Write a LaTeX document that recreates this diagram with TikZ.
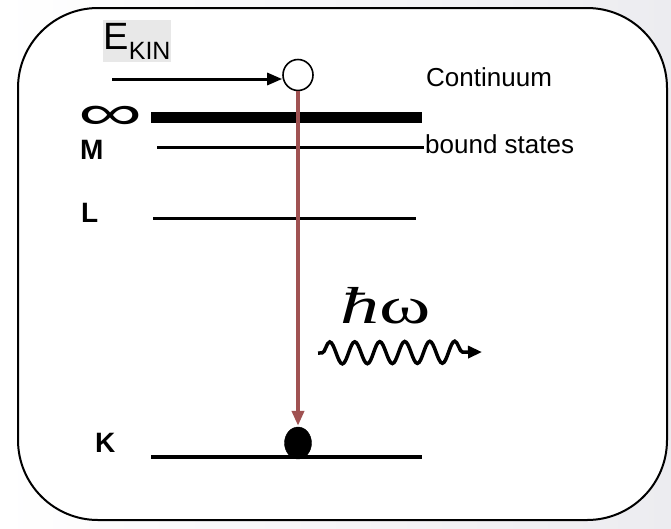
\documentclass[tikz,border=0pt]{standalone}
\usepackage{fontspec}
\setmainfont{Liberation Sans}
\newfontfamily\serifff{Liberation Serif}
\usetikzlibrary{arrows.meta,shapes.geometric,decorations.pathmorphing}
\definecolor{bgright}{RGB}{236,236,240}
\definecolor{trans}{RGB}{160,82,82}
\definecolor{ekbg}{RGB}{232,232,232}
\tikzset{
  level/.style={line width=3pt},
  lbl/.style={inner sep=0pt, font=\fontsize{26}{26}\selectfont},
  shell/.style={inner sep=0pt, font=\fontsize{28}{28}\selectfont\bfseries},
  tip/.style={-{Triangle[length=15pt,width=12pt]}}
}
\begin{document}
\begin{tikzpicture}[x=1pt,y=-1pt]
\useasboundingbox (0,0) rectangle (671,528);
\shade[left color=white, right color=bgright] (0,0) rectangle (671,528);
\draw[line width=2pt, fill=white, rounded corners=80pt] (18,8) rectangle (667,520);

% E_KIN label
\node[fill=ekbg, inner sep=0pt, minimum width=66pt, minimum height=42pt] (ekin) at (137,41)
  {\fontsize{38}{38}\selectfont E\fontsize{25}{25}\selectfont\raisebox{-10pt}{KIN}};

% electrons
\node[draw, ellipse, line width=1.6pt, fill=white, minimum width=30pt, minimum height=31pt, inner sep=0pt] (ec) at (298,75) {};
\node[draw, ellipse, fill=black, minimum width=27pt, minimum height=32pt, inner sep=0pt] (kd) at (298,443) {};

\coordinate (estart) at (112,79);
\draw[line width=3pt, tip] (estart) -- (ec.west |- estart);

% levels
\draw[line width=11pt] (151,117.5) -- (422,117.5);
\draw[level] (157,147) -- (424,147);
\draw[level] (153,218) -- (416,218);
\draw[line width=4pt] (151,457) -- (422,457);

% labels
\node[inner sep=0pt] (inf) at (111,118) {\scalebox{2.5}[1.35]{\fontsize{36}{36}\selectfont ∞}};
\node[shell, anchor=south west] (M) at (80,160) {M};
\node[shell, anchor=south west] (L) at (81,223) {L};
\node[shell, anchor=south west] (K) at (95,453) {K};
\node[lbl, anchor=base west] (cont) at (426,86) {Continuum};
\node[lbl, anchor=base west] (bound) at (425,153) {bound states};

% transition
\draw[trans, line width=4pt, tip, shorten >=1pt] (ec.south) -- (kd.north);

% photon
\node[inner sep=0pt, anchor=base west] (hw) at (340,323)
  {\scalebox{1.5}[1]{\serifff\fontsize{52}{52}\selectfont\itshape ħ\upshape ω}};
\coordinate (w1) at (318,353);
\coordinate (w2) at (482,352);
\draw[line width=3.5pt, -{Triangle[length=14pt,width=12pt]}, decorate,
  decoration={snake, segment length=25pt, amplitude=11pt, pre length=4pt, post length=12pt}] (w1) -- (w2);
\end{tikzpicture}
\end{document}
